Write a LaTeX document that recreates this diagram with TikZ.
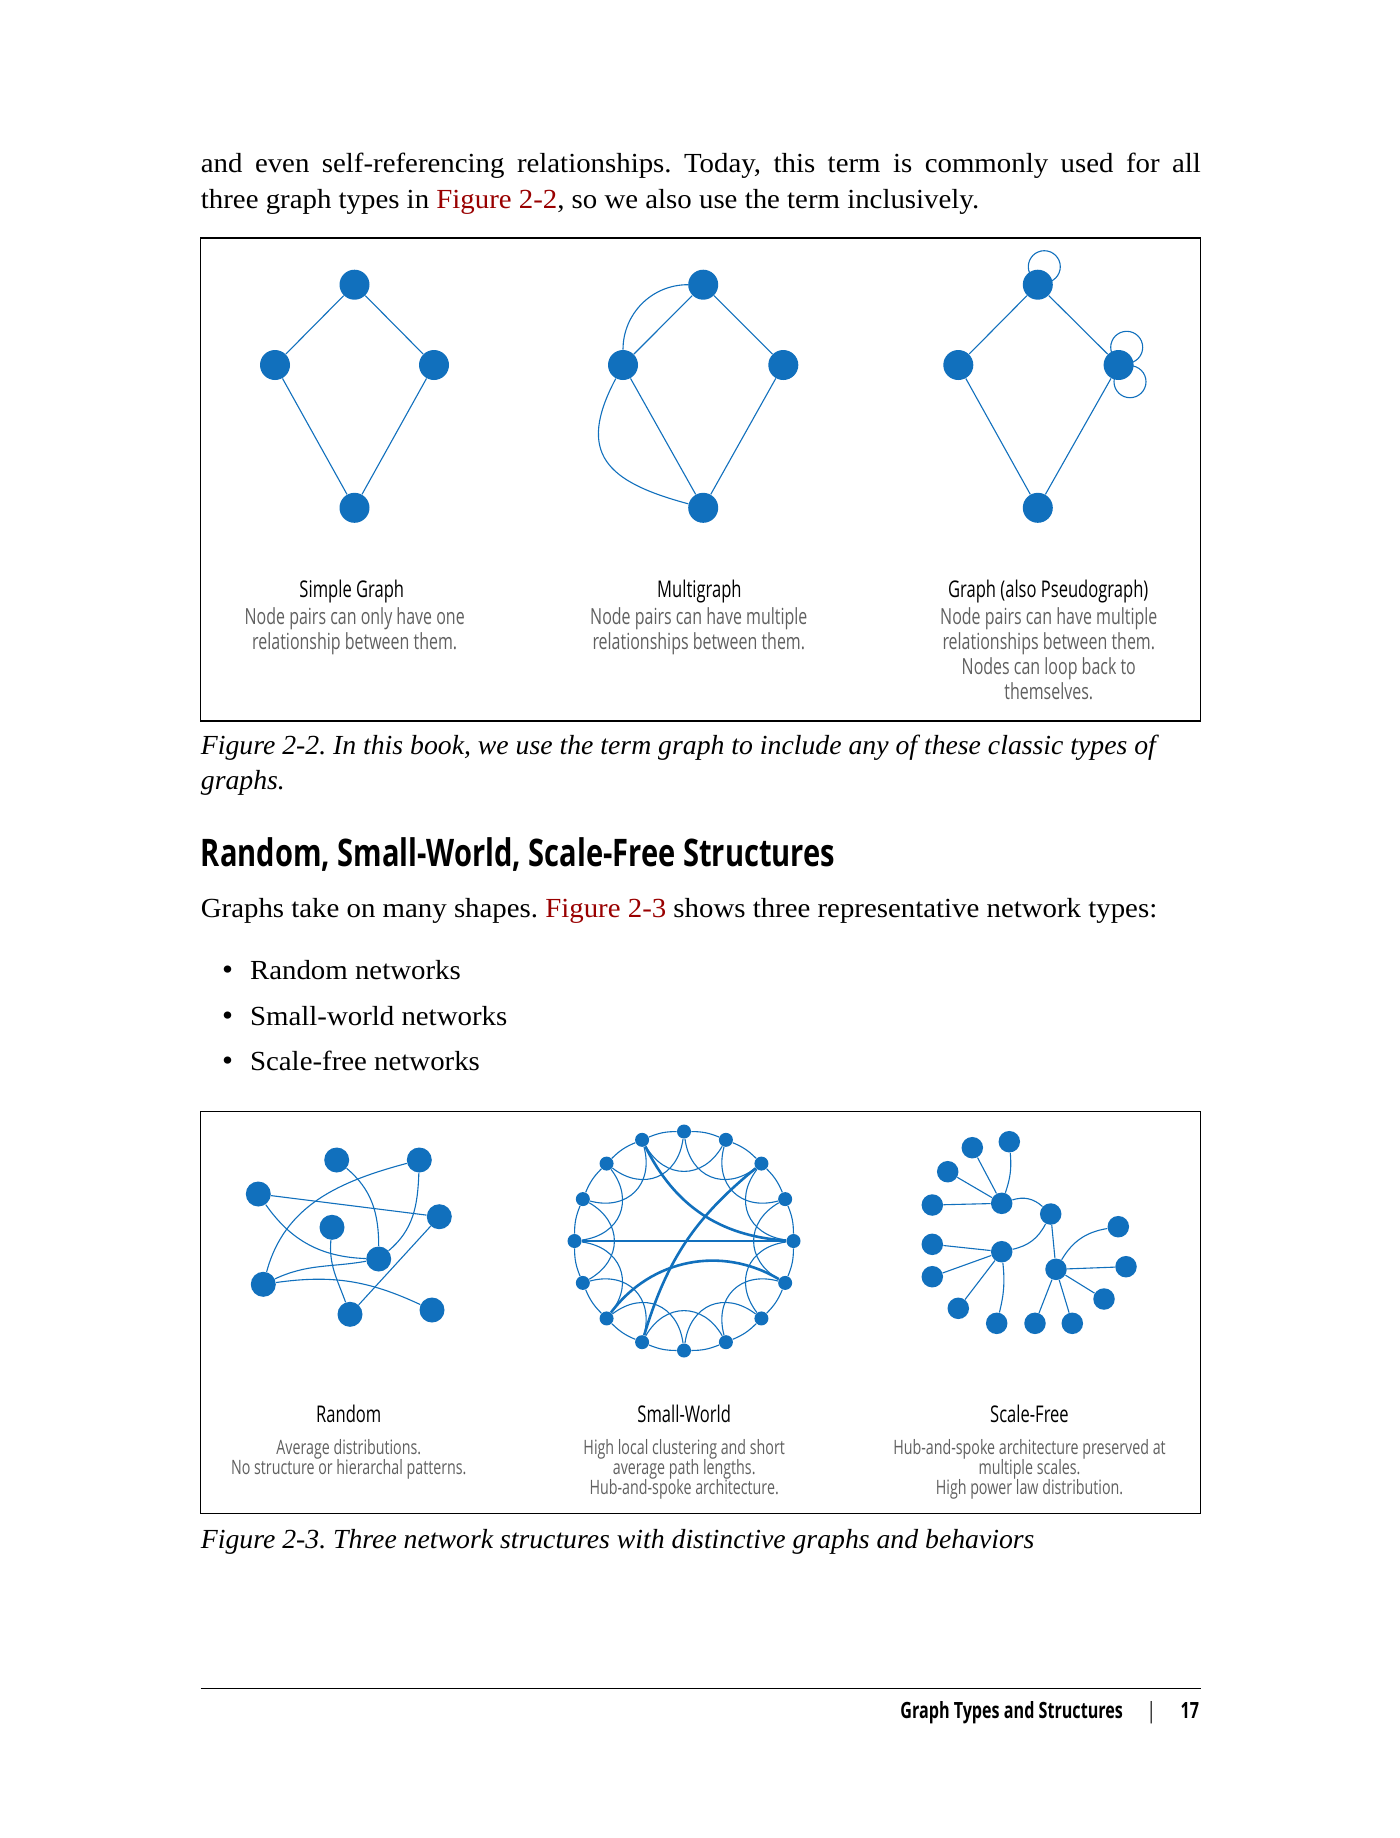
\documentclass[tikz,border=0pt]{standalone}
\usepackage{fontspec}
\setmainfont[FakeStretch=1.045]{Liberation Serif}
\newfontfamily\capfont[FakeStretch=1.005]{Liberation Serif}
\newfontfamily\condfont[FakeStretch=0.72]{Open Sans}
\newfontfamily\headfont[FakeStretch=0.765]{Open Sans}
\usepackage{tikz}
\usetikzlibrary{positioning, calc}
\definecolor{netblue}{RGB}{17,112,189}
\definecolor{xref}{RGB}{153,0,0}
\definecolor{capgray}{RGB}{96,96,96}
\frenchspacing
\tikzset{
  bodytext/.style={anchor=base west, inner sep=0pt, font=\fontsize{13.8}{18}\selectfont},
  captext/.style={bodytext, font=\capfont\fontsize{13.8}{18}\selectfont\itshape},
  headtext/.style={anchor=base west, inner sep=0pt, font=\headfont\bfseries\fontsize{19}{22}\selectfont},
  figtitle/.style={anchor=base, inner sep=0pt, font=\condfont\fontsize{11.5}{13}\selectfont},
  figdesc/.style={anchor=north, inner sep=0pt, align=center, text=capgray,
    font=\condfont\fontsize{11.1}{12.5}\selectfont},
  figdesc small/.style={figdesc, font=\condfont\fontsize{9.9}{10}\selectfont},
  footer/.style={anchor=base east, inner sep=0pt, font=\condfont\bfseries\fontsize{11.2}{13}\selectfont},
  figframe/.style={draw=black, line width=0.6pt},
  vertex/.style={circle, fill=netblue, inner sep=0pt, minimum size=15pt},
  rvertex/.style={vertex, minimum size=12.5pt},
  swvertex/.style={vertex, minimum size=7pt},
  sfvertex/.style={vertex, minimum size=10.75pt},
  link/.style={draw=netblue, line width=0.55pt},
  shortcut/.style={draw=netblue, line width=1.3pt},
}

\begin{document}
\begin{tikzpicture}[x=0.5pt, y=-0.5pt]
  \useasboundingbox (0,0) rectangle (1400,1838);
  \fill[white] (0,0) rectangle (1400,1838);

  % Running text
  \node[bodytext] (para1) at (200.5,172)
    {\makebox[500pt][s]{and even self-referencing relationships. Today, this term is commonly used for all}};
  \node[bodytext] (para2) at (200.5,208)
    {three graph types in \textcolor{xref}{Figure 2-2}, so we also use the term inclusively.};

  % Figure 2-2
  \draw[figframe] (200.5,238) rectangle (1200.6,721);

  % Simple graph
  \node[vertex] (s1) at (354.5,284.7) {};
  \node[vertex] (s2) at (275,365) {};
  \node[vertex] (s3) at (434,365) {};
  \node[vertex] (s4) at (354.5,507.8) {};
  \draw[link] (s1) -- (s2) -- (s4) -- (s3) -- (s1);

  % Multigraph
  \node[vertex] (m1) at (703.2,284.7) {};
  \node[vertex] (m2) at (623,365) {};
  \node[vertex] (m3) at (783.3,365) {};
  \node[vertex] (m4) at (703.2,507.8) {};
  \draw[link] (m1) -- (m2) -- (m4) -- (m3) -- (m1);
  \draw[link] (m1) to[out=180, in=90] (m2);
  \draw[link] (m2) to[out=242, in=165, looseness=1.5] (m4);

  % Pseudograph (loops first, under the vertices)
  \coordinate (p1loop) at (1044.3,266.7);
  \coordinate (p3loopa) at (1126.7,347.3);
  \coordinate (p3loopb) at (1130,381.7);
  \draw[link] (p1loop) circle (16);
  \draw[link] (p3loopa) circle (16);
  \draw[link] (p3loopb) circle (16);
  \node[vertex] (p1) at (1037.8,284.7) {};
  \node[vertex] (p2) at (958.3,365) {};
  \node[vertex] (p3) at (1118.6,365) {};
  \node[vertex] (p4) at (1037.8,507.8) {};
  \draw[link] (p1) -- (p2) -- (p4) -- (p3) -- (p1);

  % Labels
  \node[figtitle] (simpletitle) at (351.8,597) {Simple Graph};
  \node[figdesc] (simpledesc) at (354.7,607)
    {Node pairs can only have one\\relationship between them.};
  \node[figtitle] (multititle) at (699.4,597) {Multigraph};
  \node[figdesc] (multidesc) at (698.8,607)
    {Node pairs can have multiple\\relationships between them.};
  \node[figtitle] (pseudotitle) at (1048.2,597) {Graph (also Pseudograph)};
  \node[figdesc] (pseudodesc) at (1048.8,607)
    {Node pairs can have multiple\\relationships between them.\\Nodes can loop back to\\themselves.};

  \node[captext] (cap22a) at (200.5,754)
    {Figure 2-2. In this book, we use the term graph to include any of these classic types of};
  \node[captext] (cap22b) at (200.5,789) {graphs.};

  % Section
  \node[headtext] (sechead) at (200.5,866) {Random, Small-World, Scale-Free Structures};
  \node[bodytext] (para3) at (200.5,917)
    {Graphs take on many shapes. \textcolor{xref}{Figure 2-3} shows three representative network types:};
  \foreach \y/\txt [count=\n] in {979/Random networks, 1025/Small-world networks, 1070/Scale-free networks} {
    \node[bodytext, anchor=base, font=\fontsize{15}{18}\selectfont] (dot\n) at (227.5,\y) {\textbullet};
    \node[bodytext] (item\n) at (249.7,\y) {\txt};
  }

  % Figure 2-3
  \draw[figframe] (200.5,1111.5) rectangle (1200.6,1513.7);

  % Random
  \node[rvertex] (ra) at (336.7,1160) {};
  \node[rvertex] (rb) at (419.3,1160) {};
  \node[rvertex] (rc) at (258.3,1194) {};
  \node[rvertex] (rd) at (439.3,1216.7) {};
  \node[rvertex] (re) at (332,1227.3) {};
  \node[rvertex] (rf) at (378.7,1259) {};
  \node[rvertex] (rg) at (263.3,1284.3) {};
  \node[rvertex] (rh) at (350,1314.3) {};
  \node[rvertex] (ri) at (432,1310) {};
  \draw[link] (rc) -- (rd);
  \draw[link] (rc) to[out=-55, in=178] (rf);
  \draw[link] (ra) to[out=-40, in=90] (rf);
  \draw[link] (rb) to[out=-92, in=40] (rf);
  \draw[link] (rb) to[out=195, in=75] (rg);
  \draw[link] (rg) to[out=25, in=190] (rf);
  \draw[link] (rg) to[out=8, in=155] (ri);
  \draw[link] (re) to[out=-95, in=110] (rh);
  \draw[link] (rd) -- (rh);

  % Small-world
  \foreach \i in {0,...,15} {
    \node[swvertex] (w\i) at ({684+109.5*cos(90-22.5*\i)}, {1241-109.5*sin(90-22.5*\i)}) {};
  }
  \foreach \i in {0,...,15} {
    \pgfmathtruncatemacro\j{mod(\i+1,16)}
    \pgfmathtruncatemacro\k{mod(\i+2,16)}
    \draw[link] (w\i) to[bend left=11] (w\j);
    \draw[link] (w\i) to[bend right=60, looseness=1.3] (w\k);
  }
  \draw[shortcut] (w15) to[bend right=30] (w4);
  \draw[shortcut] (w2) to[bend right=17] (w9);
  \draw[shortcut] (w12) -- (w4);
  \draw[shortcut] (w10) to[bend left=42] (w5);

  % Scale-free
  \node[sfvertex] (h1) at (1001.7,1203.3) {};
  \node[sfvertex] (h2) at (1050.7,1214) {};
  \node[sfvertex] (h3) at (1001.7,1251.7) {};
  \node[sfvertex] (h4) at (1056,1269.3) {};
  \foreach \x/\y [count=\n] in {972.3/1147.7, 1009.3/1141.7, 947.7/1171.7, 932.3/1205} {
    \node[sfvertex] (a\n) at (\x,\y) {};
  }
  \foreach \x/\y [count=\n] in {932.3/1244.3, 932.3/1276.7, 958.3/1308.3, 996.7/1323.3} {
    \node[sfvertex] (b\n) at (\x,\y) {};
  }
  \foreach \x/\y [count=\n] in {1035/1323.3, 1072.3/1323.3, 1104/1299, 1126/1266.7, 1118.3/1226.7} {
    \node[sfvertex] (c\n) at (\x,\y) {};
  }
  \draw[link] (h1) -- (a1);
  \draw[link] (h1) to[bend right=12] (a2);
  \draw[link] (h1) -- (a3);
  \draw[link] (h1) -- (a4);
  \draw[link] (h3) -- (b1);
  \draw[link] (h3) -- (b2);
  \draw[link] (h3) -- (b3);
  \draw[link] (h3) to[bend left=10] (b4);
  \draw[link] (h4) -- (c1);
  \draw[link] (h4) -- (c2);
  \draw[link] (h4) -- (c3);
  \draw[link] (h4) -- (c4);
  \draw[link] (h4) to[bend left=25] (c5);
  \draw[link] (h1) to[bend left=30] (h2);
  \draw[link] (h2) to[bend left=25] (h3);
  \draw[link] (h2) -- (h4);

  % Labels
  \node[figtitle] (randtitle) at (348.8,1422) {Random};
  \node[figdesc small] (randdesc) at (348.8,1439)
    {Average distributions.\\No structure or hierarchal patterns.};
  \node[figtitle] (swtitle) at (684.2,1422) {Small-World};
  \node[figdesc small] (swdesc) at (684.2,1439)
    {High local clustering and short\\average path lengths.\\Hub-and-spoke architecture.};
  \node[figtitle] (sftitle) at (1029.5,1422) {Scale-Free};
  \node[figdesc small] (sfdesc) at (1029.5,1439)
    {Hub-and-spoke architecture preserved at\\multiple scales.\\High power law distribution.};

  \node[captext] (cap23) at (200.5,1548)
    {Figure 2-3. Three network structures with distinctive graphs and behaviors};

  % Footer
  \draw[line width=0.5pt] (200.5,1688.4) -- (1200.6,1688.4);
  \node[footer] (runhead) at (1123.3,1718) {Graph Types and Structures};
  \node[footer, font=\condfont\fontsize{11.2}{13}\selectfont, anchor=base] (bar) at (1151.4,1718) {|};
  \node[footer] (folio) at (1199.5,1718) {17};
\end{tikzpicture}
\end{document}
